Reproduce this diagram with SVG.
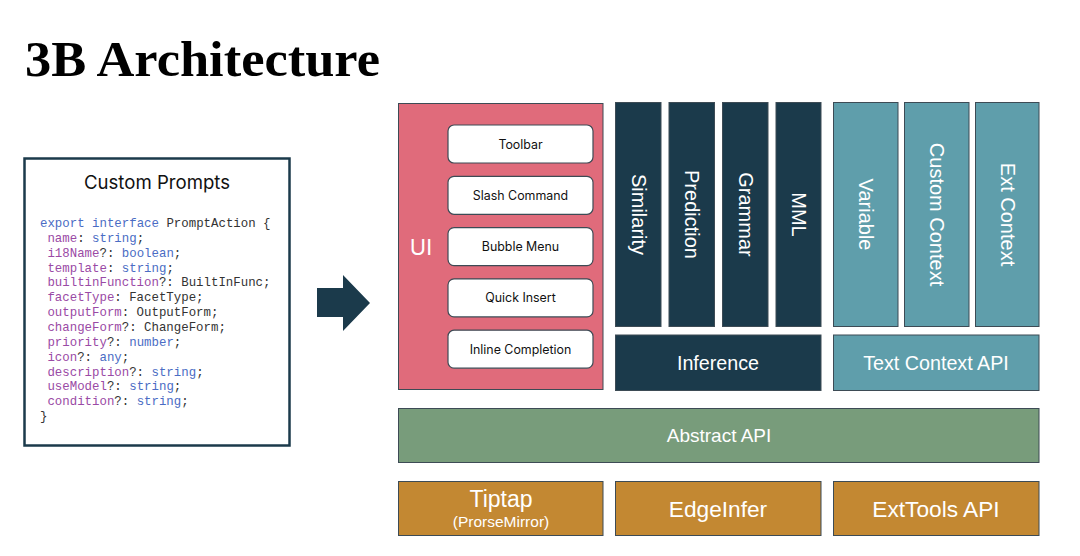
<svg xmlns="http://www.w3.org/2000/svg" width="1080" height="556" viewBox="0 0 1080 556">
<style>
.title{font-family:"Liberation Serif","DejaVu Serif",serif;font-weight:bold;font-size:50px;fill:#000}
.box{stroke:#3d4b55;stroke-width:1}
.ui{fill:#e06b7b}
.dark{fill:#1b3a4b}
.teal{fill:#5f9eab}
.green{fill:#789c7b}
.orange{fill:#c38832}
.item{fill:#fff;stroke:#3d4b55;stroke-width:1.2}
.itxt{font-family:Inter,"Liberation Sans",sans-serif;font-size:12.4px;fill:#111;text-anchor:middle}
.wt{font-family:"Liberation Sans",Arial,sans-serif;fill:#fff;text-anchor:middle}
.code{font-family:"Liberation Mono","DejaVu Sans Mono",monospace;font-size:12.4px;fill:#333}
.k{fill:#4a6cc4}
.p{fill:#9a4aa5}
</style>
<text class="title" x="25" y="76" textLength="355" lengthAdjust="spacingAndGlyphs">3B Architecture</text>

<g id="custom-prompts">
<rect x="24.5" y="158.5" width="265" height="287" fill="#fff" stroke="#1b3a4b" stroke-width="2.5"/>
<text x="157" y="189" font-family="Inter,'Liberation Sans',sans-serif" font-size="18.6" fill="#111" text-anchor="middle">Custom Prompts</text>
<text class="code" x="40" y="227"><tspan class="k">export interface</tspan> PromptAction {</text>
<text class="code" x="47.4" y="241.85"><tspan class="p">name</tspan>: <tspan class="k">string</tspan>;</text>
<text class="code" x="47.4" y="256.7"><tspan class="p">i18Name</tspan>?: <tspan class="k">boolean</tspan>;</text>
<text class="code" x="47.4" y="271.55"><tspan class="p">template</tspan>: <tspan class="k">string</tspan>;</text>
<text class="code" x="47.4" y="286.4"><tspan class="p">builtinFunction</tspan>?: BuiltInFunc;</text>
<text class="code" x="47.4" y="301.25"><tspan class="p">facetType</tspan>: FacetType;</text>
<text class="code" x="47.4" y="316.1"><tspan class="p">outputForm</tspan>: OutputForm;</text>
<text class="code" x="47.4" y="330.95"><tspan class="p">changeForm</tspan>?: ChangeForm;</text>
<text class="code" x="47.4" y="345.8"><tspan class="p">priority</tspan>?: <tspan class="k">number</tspan>;</text>
<text class="code" x="47.4" y="360.65"><tspan class="p">icon</tspan>?: <tspan class="k">any</tspan>;</text>
<text class="code" x="47.4" y="375.5"><tspan class="p">description</tspan>?: <tspan class="k">string</tspan>;</text>
<text class="code" x="47.4" y="390.35"><tspan class="p">useModel</tspan>?: <tspan class="k">string</tspan>;</text>
<text class="code" x="47.4" y="405.2"><tspan class="p">condition</tspan>?: <tspan class="k">string</tspan>;</text>
<text class="code" x="40" y="420">}</text>
</g>

<g id="connectors">
<polygon points="317,288 343,288 343,275 370,303 343,331 343,317 317,317" fill="#1b3a4b"/>
</g>

<g id="ui">
<rect class="box ui" x="398.5" y="103.5" width="204.5" height="286"/>
<text x="421" y="255" font-family="Inter,'Liberation Sans',sans-serif" font-size="22" fill="#fff" text-anchor="middle">UI</text>
</g>
<g id="toolbar"><rect class="item" x="448" y="125" width="145" height="38" rx="6"/><text class="itxt" x="520.5" y="148.5">Toolbar</text></g>
<g id="slash-command"><rect class="item" x="448" y="176.3" width="145" height="38" rx="6"/><text class="itxt" x="520.5" y="199.8">Slash Command</text></g>
<g id="bubble-menu"><rect class="item" x="448" y="227.6" width="145" height="38" rx="6"/><text class="itxt" x="520.5" y="251.1">Bubble Menu</text></g>
<g id="quick-insert"><rect class="item" x="448" y="278.9" width="145" height="38" rx="6"/><text class="itxt" x="520.5" y="302.4">Quick Insert</text></g>
<g id="inline-completion"><rect class="item" x="448" y="330.2" width="145" height="38" rx="6"/><text class="itxt" x="520.5" y="353.7">Inline Completion</text></g>

<g id="similarity"><rect class="box dark" x="615.5" y="102.5" width="45.5" height="224"/><text class="wt" font-size="20" transform="translate(631.5,214.5) rotate(90)">Similarity</text></g>
<g id="prediction"><rect class="box dark" x="669" y="102.5" width="45.5" height="224"/><text class="wt" font-size="20" transform="translate(685,214.5) rotate(90)">Prediction</text></g>
<g id="grammar"><rect class="box dark" x="722.5" y="102.5" width="45.5" height="224"/><text class="wt" font-size="20" transform="translate(738.5,214.5) rotate(90)">Grammar</text></g>
<g id="mml"><rect class="box dark" x="776" y="102.5" width="45" height="224"/><text class="wt" font-size="20" transform="translate(792,214.5) rotate(90)">MML</text></g>
<g id="inference"><rect class="box dark" x="615.5" y="335" width="205.5" height="55.5"/><text class="wt" font-size="19.7" x="718" y="370">Inference</text></g>

<g id="variable"><rect class="box teal" x="833.5" y="102.5" width="64.5" height="224"/><text class="wt" font-size="20" transform="translate(859,214.5) rotate(90)">Variable</text></g>
<g id="custom-context"><rect class="box teal" x="904.5" y="102.5" width="64.5" height="224"/><text class="wt" font-size="20" transform="translate(930,214.5) rotate(90)">Custom Context</text></g>
<g id="ext-context"><rect class="box teal" x="975.5" y="102.5" width="63.5" height="224"/><text class="wt" font-size="20" transform="translate(1001,214.5) rotate(90)">Ext Context</text></g>
<g id="text-context-api"><rect class="box teal" x="833.5" y="335" width="205.5" height="55.5"/><text class="wt" font-size="19.7" x="936" y="370">Text Context API</text></g>

<g id="abstract-api"><rect class="box green" x="398.5" y="408.5" width="640.5" height="54"/><text class="wt" font-size="19" x="719" y="442">Abstract API</text></g>

<g id="tiptap"><rect class="box orange" x="398.5" y="481.5" width="204.5" height="54"/><text class="wt" font-size="23" x="501" y="507">Tiptap</text><text class="wt" font-size="15.5" x="501" y="527">(ProrseMirror)</text></g>
<g id="edgeinfer"><rect class="box orange" x="615.5" y="481.5" width="205.5" height="54"/><text class="wt" font-size="22.7" x="718" y="516.5">EdgeInfer</text></g>
<g id="exttools-api"><rect class="box orange" x="833.5" y="481.5" width="205.5" height="54"/><text class="wt" font-size="22.7" x="936" y="516.5">ExtTools API</text></g>
</svg>
